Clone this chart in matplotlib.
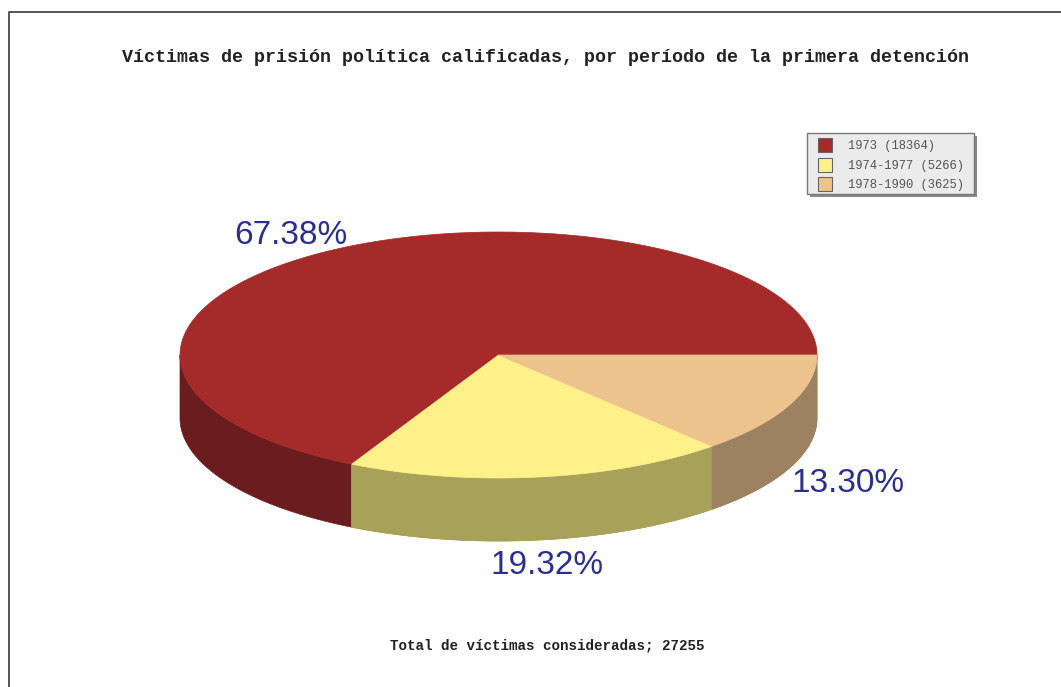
import numpy as np
import matplotlib
matplotlib.use("Agg")
import matplotlib.pyplot as plt
from matplotlib.patches import Polygon, Rectangle

title = "Víctimas de prisión política calificadas, por período de la primera detención"
footer = "Total de víctimas consideradas; 27255"
labels = ["1973 (18364)", "1974-1977 (5266)", "1978-1990 (3625)"]
values = [18364, 5266, 3625]
pct_labels = ["67.38%", "19.32%", "13.30%"]
top_colors = ["#A52A2A", "#FFF18A", "#EDC38D"]
side_colors = ["#6B1C1E", "#A8A15A", "#9C8260"]

W, H = 1061, 687
fig = plt.figure(figsize=(W / 100, H / 100), dpi=100)
ax = fig.add_axes([0, 0, 1, 1])
ax.set_xlim(0, W)
ax.set_ylim(H, 0)
ax.axis("off")

# page frame: only the left and top edges fall inside the image
ax.plot([9, 9, W], [H, 12, 12], color="#555555", lw=1.4)

cx, cy, rx, ry, depth = 498.5, 355, 318.5, 123, 63
fr = np.array(values) / sum(values)
edges = np.concatenate([[0], np.cumsum(fr)]) * 2 * np.pi


def pt(t):
    return cx + rx * np.cos(t), cy + ry * np.sin(t)


starts = 2 * np.pi - edges[1:]
ends = 2 * np.pi - edges[:-1]

# Side walls: only the part of each slice on the near half of the ellipse shows.
for a, b, side in zip(starts, ends, side_colors):
    s, e = (a, min(b, np.pi)) if a < np.pi else (np.pi, a)
    if a >= np.pi and b > a and a > np.pi:
        s, e = max(a, 0), min(b, np.pi)
        if s >= e:
            continue
    t = np.linspace(s, e, 120)
    x, y = pt(t)
    verts = np.r_[np.c_[x, y], np.c_[x[::-1], y[::-1] + depth]]
    ax.add_patch(Polygon(verts, closed=True, fc=side, ec=side, lw=0.5))

# Near-half arcs for the two small slices
for a, b, side in zip(starts[1:], ends[1:], side_colors[1:]):
    t = np.linspace(a, b, 120)
    t = t[t <= np.pi] if a < np.pi else t
    x, y = pt(t)
    verts = np.r_[np.c_[x, y], np.c_[x[::-1], y[::-1] + depth]]
    ax.add_patch(Polygon(verts, closed=True, fc=side, ec=side, lw=0.5))

for a, b, top in zip(starts, ends, top_colors):
    t = np.linspace(a, b, 300)
    x, y = pt(t)
    verts = np.r_[[[cx, cy]], np.c_[x, y]]
    ax.add_patch(Polygon(verts, closed=True, fc=top, ec=top, lw=0.5))

# Percentages
pct_pos = [(291, 235), (547, 566), (848, 483)]
for s, (x, y) in zip(pct_labels, pct_pos):
    ax.text(x, y, s, color="#2B2F8C", fontsize=24, family="Liberation Sans",
            ha="center", va="center")

ax.text(545, 57, title, family="Liberation Mono", weight="bold", fontsize=13.2,
        ha="center", va="center", color="#222222")
ax.text(547, 645, footer, family="Liberation Mono", weight="bold", fontsize=10.3,
        ha="center", va="center", color="#222222")

# Legend
lx0, ly0, lx1, ly1 = 807, 133, 974, 194
ax.add_patch(Rectangle((lx0 + 3, ly0 + 3), lx1 - lx0, ly1 - ly0, fc="#8A8A8A", ec="none"))
ax.add_patch(Rectangle((lx0, ly0), lx1 - lx0, ly1 - ly0, fc="#EBEBEB", ec="#777777", lw=1))
for i, (lab, c) in enumerate(zip(labels, top_colors)):
    y = 145 + i * 19.5
    ax.add_patch(Rectangle((818, y - 7), 14, 14, fc=c, ec="#666666", lw=0.8))
    ax.text(848, y + 1, lab, family="Liberation Mono", fontsize=8.7, color="#555555",
            ha="left", va="center")

fig.savefig("out.png", dpi=100, facecolor="white")
